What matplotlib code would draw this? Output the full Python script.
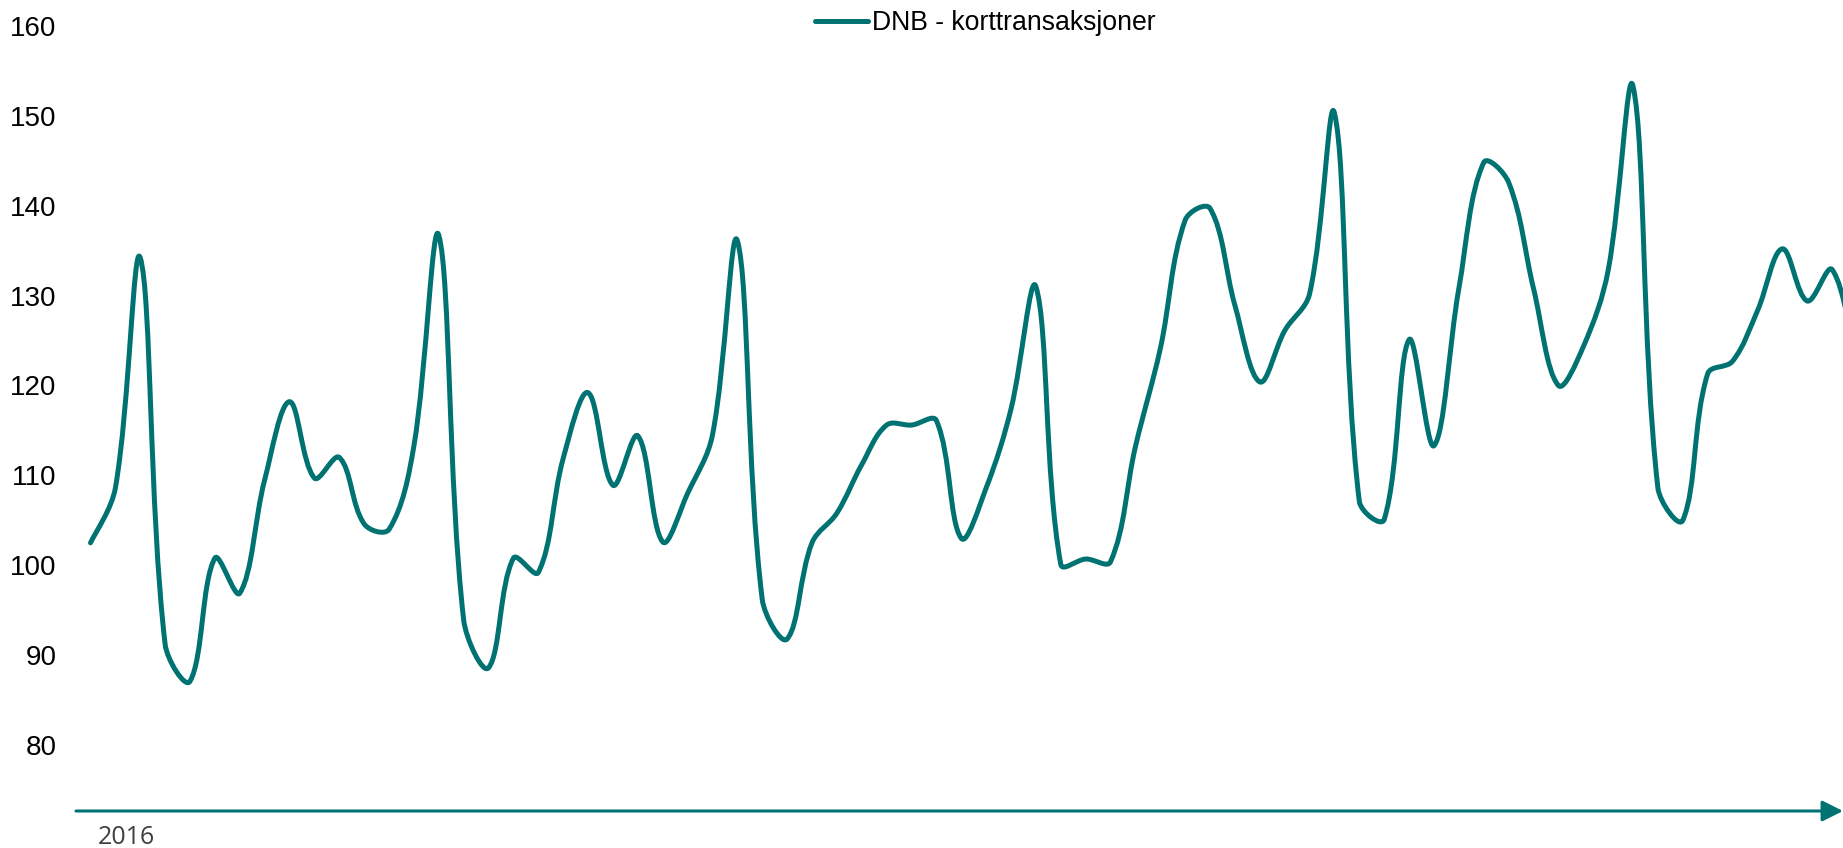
import matplotlib
matplotlib.use("Agg")
import matplotlib.pyplot as plt
from matplotlib.path import Path
from matplotlib.patches import PathPatch, FancyArrowPatch
from matplotlib.lines import Line2D
import numpy as np

# Monthly index, Oct 2016 -> Sep 2022
months = [f"{y}-{m:02d}" for y in range(2016, 2023) for m in range(1, 13)][9:9 + 72]
values = [
    102.5, 108.6, 134.2,                                                     # 2016 Oct-Dec
    91.2, 87.1, 100.8, 96.9, 109.5, 118.2, 109.7, 112.0, 104.6, 104.0, 113.3, 136.7,  # 2017
    93.9, 88.6, 100.8, 99.2, 111.9, 119.2, 108.9, 114.4, 102.6, 108.0, 114.5, 136.1,  # 2018
    96.2, 91.8, 102.5, 105.8, 111.2, 115.6, 115.6, 116.1, 103.0, 108.6, 117.4, 131.0,  # 2019
    100.1, 100.7, 100.4, 113.2, 124.1, 138.4, 139.7, 128.9, 120.4, 126.1, 130.2, 150.3,  # 2020
    107.1, 105.1, 125.1, 113.3, 130.8, 144.8, 142.6, 130.8, 120.0, 124.3, 132.8, 153.3,  # 2021
    108.6, 105.0, 121.3, 122.7, 128.3, 135.2, 129.4, 132.9, 122.0,                     # 2022 Jan-Sep
]
series_name = "DNB - korttransaksjoner"
year_labels = ["2016"]
y_ticks = [80, 90, 100, 110, 120, 130, 140, 150, 160]

COLOR = "#007272"

fig = plt.figure(figsize=(18.43, 8.48), dpi=100)
W, H = 1843, 848
ax_left, ax_right, ax_bottom_px = 76, 1843, 811
ax = fig.add_axes([ax_left / W, (H - ax_bottom_px) / H, (ax_right - ax_left) / W, ax_bottom_px / H])
ax.set_xlim(-0.583, 70.44)
ax.set_ylim(72.67, 162.88)

x = np.arange(len(values), dtype=float)
y = np.array(values, dtype=float)

# Smoothed line (Excel-style Bezier: tangent through neighbours, arm length
# proportional to on-screen segment length)
fig.canvas.draw()
P = ax.transData.transform(np.column_stack([x, y]))
n = len(P)
seg = np.hypot(*np.diff(P, axis=0).T)
f = 0.36
cin = P.copy()
cout = P.copy()
for i in range(n):
    if i == 0:
        T = P[1] - P[0]
        cout[i] = P[0] + T * f * 0.5
        continue
    if i == n - 1:
        T = P[-1] - P[-2]
        cin[i] = P[-1] - T * f * 0.5
        continue
    T = P[i + 1] - P[i - 1]
    d0, d1 = seg[i - 1], seg[i]
    cin[i] = P[i] - T * f * d0 / (d0 + d1)
    cout[i] = P[i] + T * f * d1 / (d0 + d1)
inv = ax.transData.inverted()
verts = [tuple(inv.transform(P[0]))]
codes = [Path.MOVETO]
for i in range(n - 1):
    verts += [tuple(inv.transform(cout[i])), tuple(inv.transform(cin[i + 1])),
              tuple(inv.transform(P[i + 1]))]
    codes += [Path.CURVE4] * 3
patch = PathPatch(Path(verts, codes), facecolor="none", edgecolor=COLOR, lw=3.6,
                  capstyle="round", joinstyle="round")
ax.add_patch(patch)

for s in ax.spines.values():
    s.set_visible(False)

ax.set_yticks(y_ticks)
ax.set_yticklabels([str(t) for t in y_ticks], fontsize=20, family="Liberation Sans", color="#000000")
ax.tick_params(axis="y", length=0, pad=14)
ax.set_xticks([1.43])
ax.set_xticklabels(year_labels, fontsize=18, family="Open Sans", color="#404040")
ax.tick_params(axis="x", length=0, pad=10)

# x-axis line with arrow
arrow = FancyArrowPatch((ax_left / W, (H - ax_bottom_px) / H), (1.0, (H - ax_bottom_px) / H),
                        transform=fig.transFigure, arrowstyle="-|>,head_length=0.9,head_width=0.45",
                        mutation_scale=14, color=COLOR, lw=2.2, shrinkA=0, shrinkB=0)
fig.add_artist(arrow)

handle = Line2D([0], [0], color=COLOR, lw=3.6, solid_capstyle="round")
leg = fig.legend([handle], [series_name], loc="center", bbox_to_anchor=(985 / W, 1 - 23 / H),
                 frameon=False, prop={"family": "Liberation Sans", "size": 19.2},
                 handlelength=2.0, handletextpad=0.15, borderpad=0)

fig.savefig("out.png", dpi=100)
